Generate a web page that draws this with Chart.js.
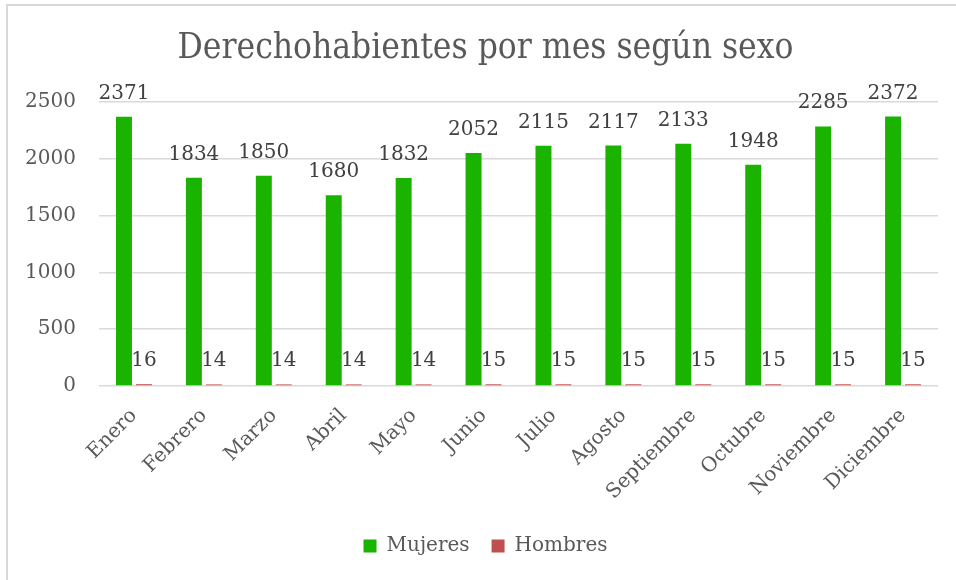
<!DOCTYPE html>
<html>
<head>
<meta charset="utf-8">
<script src="https://cdn.jsdelivr.net/npm/chart.js@4.4.1/dist/chart.umd.min.js"></script>
<style>
  html, body { margin: 0; padding: 0; background: #fff; }
  #wrap { position: relative; width: 956px; height: 580px; overflow: hidden; }
  #frame { position: absolute; left: 6px; top: 4px; right: -10px; bottom: -10px;
           border-left: 2px solid #D9D9D9; border-top: 2px solid #D9D9D9; }
  canvas { position: absolute; left: 0; top: 0; }
</style>
</head>
<body>
<div id="wrap">
  <div id="frame"></div>
  <canvas id="c" width="956" height="580"></canvas>
</div>
<script>
const chartTitle = 'Derechohabientes por mes según sexo';
const categories = ['Enero', 'Febrero', 'Marzo', 'Abril', 'Mayo', 'Junio', 'Julio', 'Agosto', 'Septiembre', 'Octubre', 'Noviembre', 'Diciembre'];
const mujeres = [2371, 1834, 1850, 1680, 1832, 2052, 2115, 2117, 2133, 1948, 2285, 2372];
const hombres = [16, 14, 14, 14, 14, 15, 15, 15, 15, 15, 15, 15];
const seriesNames = ['Mujeres', 'Hombres'];
const yMin = 0, yMax = 2500, yStep = 500;

const FONT = '"DejaVu Serif", "Liberation Serif", serif';
const TITLE_FONT = '"DejaVu Serif Condensed", "Liberation Serif", serif';
const TEXT = '#595959';

const valueLabels = {
  id: 'valueLabels',
  afterDatasetsDraw(chart) {
    const ctx = chart.ctx;
    ctx.save();
    ctx.font = '20px ' + FONT;
    ctx.fillStyle = '#404040';
    ctx.textAlign = 'center';
    ctx.textBaseline = 'alphabetic';
    chart.data.datasets.forEach((ds, i) => {
      const meta = chart.getDatasetMeta(i);
      meta.data.forEach((bar, j) => {
        ctx.fillText(String(ds.data[j]), bar.x, bar.y - 18);
      });
    });
    ctx.restore();
  }
};

// Center title and legend over the whole frame rather than the padded box
const shiftBlocks = {
  id: 'shiftBlocks',
  afterLayout(chart) {
    const dx = 16.5;
    [chart.titleBlock, chart.legend].forEach((b) => {
      if (b) { b.left += dx; b.right += dx; }
    });
  }
};

new Chart(document.getElementById('c'), {
  type: 'bar',
  data: {
    labels: categories,
    datasets: [
      { label: seriesNames[0], data: mujeres, backgroundColor: '#19B300', borderWidth: 0 },
      { label: seriesNames[1], data: hombres, backgroundColor: '#C0504D', borderWidth: 0 }
    ]
  },
  options: {
    responsive: false,
    animation: false,
    devicePixelRatio: 1,
    categoryPercentage: 0.571,
    barPercentage: 0.8,
    layout: { padding: { top: 0, right: 18, bottom: 14, left: 0 } },
    plugins: {
      title: {
        display: true,
        text: chartTitle,
        color: TEXT,
        font: { family: TITLE_FONT, size: 35, weight: 'normal' },
        padding: { top: 27.5, bottom: 32.5 }
      },
      legend: {
        position: 'bottom',
        labels: {
          color: TEXT,
          font: { family: FONT, size: 20 },
          boxWidth: 13,
          boxHeight: 13,
          padding: 22
        }
      },
      tooltip: { enabled: false }
    },
    scales: {
      x: {
        grid: { display: false, drawTicks: false },
        border: { display: false },
        ticks: { color: TEXT, font: { family: FONT, size: 20 }, minRotation: 45, maxRotation: 45, padding: 18 },
        afterFit(s) { s.height = 128; }
      },
      y: {
        min: yMin, max: yMax,
        grid: { color: '#D9D9D9', lineWidth: 1.5, drawTicks: false },
        border: { display: false },
        ticks: { stepSize: yStep, color: TEXT, font: { family: FONT, size: 20 }, padding: 23,
                 callback: (v) => String(v) },
        afterFit(s) { s.width = 99; }
      }
    }
  },
  plugins: [valueLabels, shiftBlocks]
});
</script>
</body>
</html>
